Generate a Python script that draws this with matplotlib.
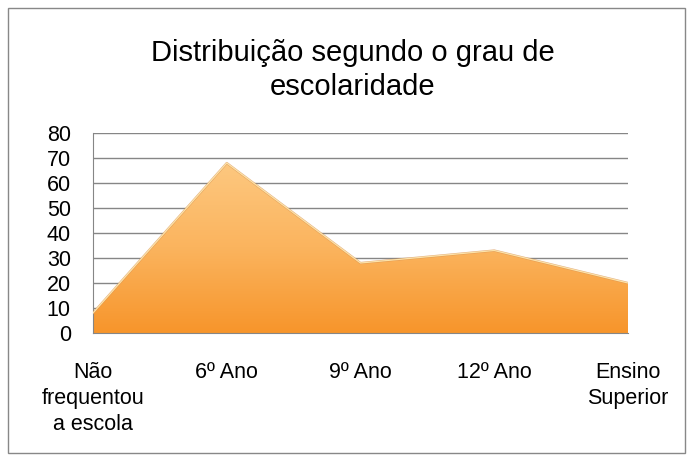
import numpy as np
import matplotlib.pyplot as plt
from matplotlib.patches import Rectangle
from matplotlib.colors import LinearSegmentedColormap

plt.rcParams['font.family'] = ['Liberation Sans', 'DejaVu Sans']

categories = ["Não\nfrequentou\na escola", "6º Ano", "9º Ano", "12º Ano", "Ensino\nSuperior"]
values = [8, 68, 28, 33, 20]
y_ticks = [0, 10, 20, 30, 40, 50, 60, 70, 80]

fig = plt.figure(figsize=(6.93, 4.61), dpi=100)
fig.patches.append(Rectangle((8 / 693, 8 / 461), 677 / 693, 445 / 461, transform=fig.transFigure,
                             fill=False, edgecolor='#888888', linewidth=1))

ax = fig.add_axes([93 / 693, 128 / 461, 535 / 693, 200 / 461])
x = np.arange(len(values))

# gradient fill clipped to the area
poly = ax.fill_between(x, values, 0, color='none')
grad = np.linspace(0, 1, 256).reshape(-1, 1)
cmap = LinearSegmentedColormap.from_list('org', ['#F7952B', '#FBB45E', '#FDC880'])
img = ax.imshow(grad, cmap=cmap, aspect='auto', origin='lower',
                extent=[0, len(values) - 1, 0, max(values)], zorder=2)
img.set_clip_path(poly.get_paths()[0], transform=ax.transData)
ax.plot(x, values, color='#D89050', linewidth=1.6, zorder=3, alpha=0.7)
ax.plot(x, values, color='#FDE3A8', linewidth=0.9, zorder=3)

ax.set_xlim(0, len(values) - 1)
ax.set_ylim(0, 80)
ax.set_yticks(y_ticks)
ax.set_yticklabels([str(v) for v in y_ticks], fontsize=15.5)
ax.set_xticks(x)
ax.set_xticklabels(categories, fontsize=15.5, va='top', linespacing=1.3)
ax.tick_params(axis='x', length=0, pad=21)
ax.tick_params(axis='y', length=0, pad=16)
ax.yaxis.grid(True, color='#868686', linewidth=1)
ax.set_axisbelow(True)
for s in ['top', 'right']:
    ax.spines[s].set_visible(False)
ax.spines['left'].set_color('#868686')
ax.spines['bottom'].set_color('#868686')

fig.text(353 / 693, 391 / 461, "Distribuição segundo o grau de\nescolaridade", ha='center', va='center',
         fontsize=21, linespacing=1.25)

fig.savefig('out.png', dpi=100)
